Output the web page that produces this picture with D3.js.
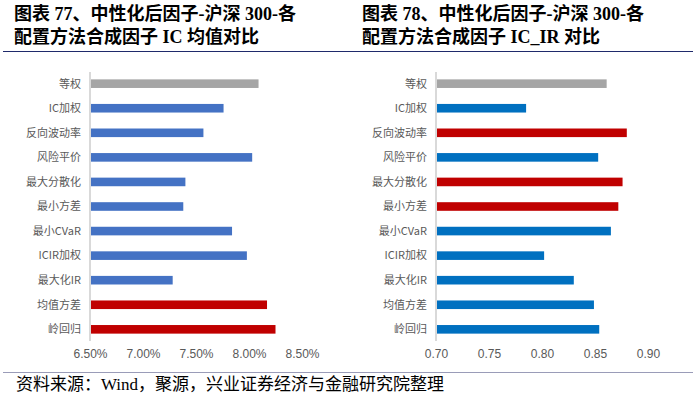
<!DOCTYPE html>
<html lang="zh">
<head>
    <meta charset="UTF-8">
    <title>IC / IC_IR 对比</title>
    <style>
        body { margin: 0; background: #fff; }
        .title { font-family: "Liberation Serif", "Times New Roman", "Noto Sans CJK SC", serif; font-weight: bold; font-size: 18px; fill: #000; }
        .cat { font-family: "Noto Sans CJK SC", sans-serif; font-size: 11px; fill: #595959; }
        .tick-label { font-family: "Liberation Sans", Arial, sans-serif; font-size: 12px; fill: #595959; }
        .footer { font-family: "Liberation Serif", "Noto Sans CJK SC", serif; font-size: 17px; fill: #000; }
    </style>
    <script src="https://d3js.org/d3.v7.min.js"></script>
</head>
<body>
    <div id="chart"></div>
    <script>
        // categories (top to bottom)
        const categories = ['等权', 'IC加权', '反向波动率', '风险平价', '最大分散化', '最小方差',
                            '最小CVaR', 'ICIR加权', '最大化IR', '均值方差', '岭回归'];

        // left chart: IC mean
        const icMean = [0.0809, 0.0776, 0.0757, 0.0803, 0.0740, 0.0738, 0.0784, 0.0798, 0.0728, 0.0817, 0.0825];
        const icMeanColors = ['gray', 'blue', 'blue', 'blue', 'blue', 'blue', 'blue', 'blue', 'blue', 'red', 'red'];
        const icTicks = [0.065, 0.070, 0.075, 0.080, 0.085];

        // right chart: IC_IR
        const icIr = [0.861, 0.785, 0.880, 0.853, 0.876, 0.872, 0.865, 0.802, 0.830, 0.849, 0.854];
        const icIrColors = ['gray', 'blue', 'red', 'blue', 'red', 'red', 'blue', 'blue', 'blue', 'blue', 'blue'];
        const irTicks = [0.70, 0.75, 0.80, 0.85, 0.90];

        const W = 700, H = 397;
        const svg = d3.select("#chart").append("svg")
            .attr("width", W)
            .attr("height", H);

        // titles
        const titles = [
            { x: 14, lines: ['图表 77、中性化后因子-沪深 300-各', '配置方法合成因子 IC 均值对比'] },
            { x: 362, lines: ['图表 78、中性化后因子-沪深 300-各', '配置方法合成因子 IC_IR 对比'] }
        ];
        titles.forEach(t => {
            t.lines.forEach((l, i) => {
                svg.append("text").attr("class", "title")
                    .attr("x", t.x).attr("y", 20 + i * 23)
                    .text(l);
            });
        });

        // rule under the titles
        svg.append("line")
            .attr("x1", 3).attr("x2", 693).attr("y1", 51.5).attr("y2", 51.5)
            .attr("stroke", "#1f2a6b").attr("stroke-width", 1.2);

        const y = d3.scaleBand()
            .domain(categories)
            .range([72, 341])
            .paddingInner(0.65)
            .paddingOuter(0.3);

        function drawPanel(opts) {
            const x = d3.scaleLinear().domain(opts.domain).range(opts.range);
            const g = svg.append("g");

            // bars
            g.selectAll("rect.bar")
                .data(categories)
                .enter().append("rect")
                .attr("class", "bar")
                .attr("x", x(opts.domain[0]))
                .attr("y", d => y(d))
                .attr("width", (d, i) => x(opts.values[i]) - x(opts.domain[0]))
                .attr("height", y.bandwidth())
                .attr("fill", (d, i) => opts.palette[opts.colors[i]]);

            // vertical axis line
            g.append("line")
                .attr("x1", x(opts.domain[0])).attr("x2", x(opts.domain[0]))
                .attr("y1", 72).attr("y2", 341)
                .attr("stroke", "#d9d9d9").attr("stroke-width", 2);

            // category labels
            g.selectAll("text.cat")
                .data(categories)
                .enter().append("text")
                .attr("class", "cat")
                .attr("x", x(opts.domain[0]) - 9)
                .attr("y", d => y(d) + y.bandwidth() / 2)
                .attr("dy", "0.35em")
                .attr("text-anchor", "end")
                .text(d => d);

            // x axis tick labels
            const axis = g.append("g")
                .attr("transform", "translate(0,354)")
                .call(d3.axisBottom(x).tickValues(opts.ticks).tickFormat(opts.format).tickSize(0).tickPadding(0));
            axis.select(".domain").remove();
            axis.selectAll("text")
                .attr("class", "tick-label")
                .attr("fill", null)
                .attr("font-family", null)
                .attr("font-size", null)
                .attr("dy", "0.35em");
        }

        drawPanel({
            domain: [0.065, 0.085],
            range: [90, 302],
            values: icMean,
            colors: icMeanColors,
            palette: { gray: '#a5a5a5', blue: '#4472c4', red: '#c00000' },
            ticks: icTicks,
            format: d3.format(".2%")
        });

        drawPanel({
            domain: [0.70, 0.90],
            range: [436, 648],
            values: icIr,
            colors: icIrColors,
            palette: { gray: '#a5a5a5', blue: '#0070c0', red: '#c00000' },
            ticks: irTicks,
            format: d3.format(".2f")
        });

        // footer rule and source
        svg.append("line")
            .attr("x1", 3).attr("x2", 693).attr("y1", 372.5).attr("y2", 372.5)
            .attr("stroke", "#9a9cb8").attr("stroke-width", 1);

        svg.append("text").attr("class", "footer")
            .attr("x", 16).attr("y", 390)
            .text("资料来源：Wind，聚源，兴业证券经济与金融研究院整理");
    </script>
</body>
</html>
